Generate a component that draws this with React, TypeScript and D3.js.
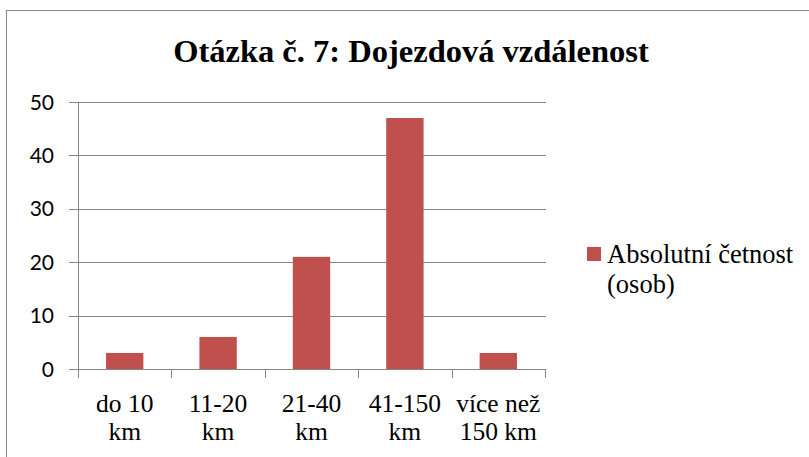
import * as d3 from "d3";

const categories = [["do 10", "km"], ["11-20", "km"], ["21-40", "km"], ["41-150", "km"], ["více než", "150 km"]];
const values = [3, 6, 21, 47, 3];
const yTicks = [0, 10, 20, 30, 40, 50];
const title = "Otázka č. 7: Dojezdová vzdálenost";
const legendLines = ["Absolutní četnost", "(osob)"];

const SERIF = "Liberation Serif";
const SANS = "Lato";
const BAR = "#c0504d";
const GRID = "#868686";

export default function App() {
  const w = 809, h = 457;
  const left = 78, right = 545;
  const x = d3.scaleBand<number>().domain(d3.range(categories.length)).range([left, right]).paddingInner(0.6).paddingOuter(0.3);
  const y = d3.scaleLinear().domain([0, 50]).range([369, 102]);
  const step = (right - left) / categories.length;
  const px = (v: number) => Math.round(v) + 0.5;

  return (
    <svg width={w} height={h} style={{ position: "absolute", left: 0, top: 0 }}>
      <rect x={0} y={0} width={w} height={h} fill="#fff" />
      <rect x={6.5} y={10.5} width={w} height={h} fill="none" stroke="#8a8a8a" />

      <text x={411} y={62} textAnchor="middle" fontFamily={SERIF} fontWeight="bold" fontSize={32.5}>{title}</text>

      {yTicks.map((t) => (
        <g key={t}>
          <line x1={69} x2={546} y1={px(y(t))} y2={px(y(t))} stroke={GRID} />
          <text x={54} y={y(t) + 7.5} textAnchor="end" fontFamily={SANS} fontSize={21}>{t}</text>
        </g>
      ))}
      <line x1={left + 0.5} x2={left + 0.5} y1={102} y2={378} stroke={GRID} />
      {d3.range(categories.length + 1).map((i) => (
        <line key={i} x1={px(left + i * step)} x2={px(left + i * step)} y1={369} y2={378} stroke={GRID} />
      ))}

      {values.map((v, i) => (
        <rect key={i} x={x(i)} width={x.bandwidth()} y={y(v)} height={y(0) - y(v)} fill={BAR} />
      ))}

      {categories.map((lines, i) => (
        <g key={i}>
          {lines.map((t, j) => (
            <text key={j} x={x(i)! + x.bandwidth() / 2} y={412 + j * 28} textAnchor="middle" fontFamily={SERIF} fontSize={25.5}>{t}</text>
          ))}
        </g>
      ))}

      <rect x={587} y={247} width={14} height={14} fill={BAR} />
      {legendLines.map((t, j) => (
        <text key={j} x={607} y={263 + j * 30} fontFamily={SERIF} fontSize={26.5}>{t}</text>
      ))}
    </svg>
  );
}
